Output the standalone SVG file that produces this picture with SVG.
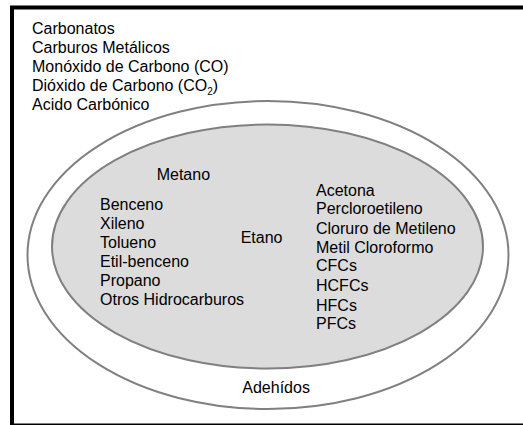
<svg xmlns="http://www.w3.org/2000/svg" width="523" height="425" viewBox="0 0 523 425">
<style>
text{font-family:"Liberation Sans",Arial,sans-serif;font-size:16px;fill:#000}
.ring{stroke:#808080;stroke-width:2}
</style>
<rect width="523" height="425" fill="#fff"/>
<g id="frame"><rect x="12" y="7.5" width="520" height="418" fill="none" stroke="#000" stroke-width="4"/></g>
<g id="outer-labels">
<text x="32" y="33.5">Carbonatos</text>
<text x="32" y="52.7">Carburos Metálicos</text>
<text x="32" y="71.7">Monóxido de Carbono (CO)</text>
<text x="32" y="90.7">Dióxido de Carbono (CO<tspan font-size="10" dy="4">2</tspan><tspan dy="-4">)</tspan></text>
<text x="32" y="110">Acido Carbónico</text>
</g>
<g id="outer-ellipse">
<ellipse class="ring" cx="268" cy="255" rx="240.5" ry="154" fill="#fff"/>
<text x="242.3" y="393.3">Adehídos</text>
</g>
<g id="inner-ellipse">
<ellipse class="ring" cx="267.5" cy="246.5" rx="215.5" ry="122" fill="#dcdcdc"/>
<text x="156.7" y="180">Metano</text>
<text x="100" y="210">Benceno</text>
<text x="100" y="228.5">Xileno</text>
<text x="100" y="247.7">Tolueno</text>
<text x="100" y="267.3">Etil-benceno</text>
<text x="100" y="285.7">Propano</text>
<text x="100" y="305">Otros Hidrocarburos</text>
<text x="240.7" y="243.3">Etano</text>
<text x="316" y="195.7">Acetona</text>
<text x="316" y="213.7">Percloroetileno</text>
<text x="316" y="233.7">Cloruro de Metileno</text>
<text x="316" y="253.3">Metil Cloroformo</text>
<text x="316" y="271">CFCs</text>
<text x="316" y="291">HCFCs</text>
<text x="316" y="311">HFCs</text>
<text x="316" y="329">PFCs</text>
</g>
<g id="connectors"/>
</svg>
